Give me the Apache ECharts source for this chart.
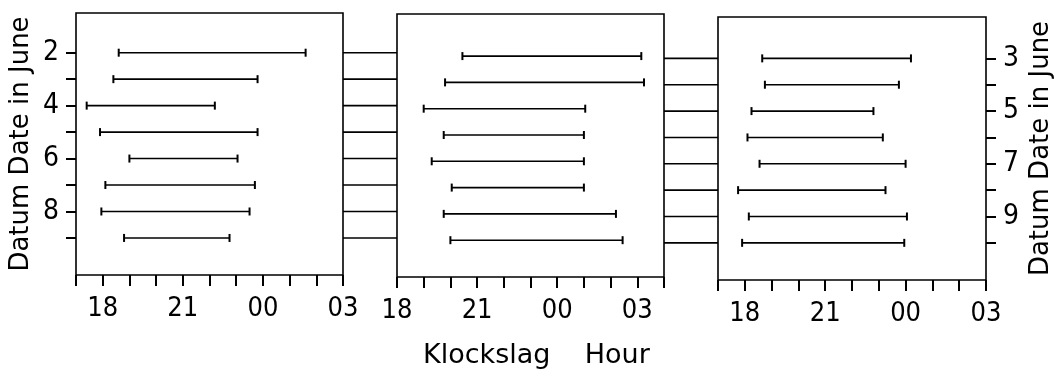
<!DOCTYPE html>
<html><head><meta charset="utf-8">
<script src="https://cdn.jsdelivr.net/npm/echarts@6/dist/echarts.min.js"></script>
<style>html,body{margin:0;padding:0;background:#fff}#c{width:1058px;height:369px}</style>
</head><body><div id="c"></div>
<script>
// Dates (June) for left-axis panels and the right-axis panel
const datesLeft = [2, 3, 4, 5, 6, 7, 8, 9];
const datesRight = [3, 4, 5, 6, 7, 8, 9, 10];
// Activity intervals, clock hours (values above 24 are after midnight)
const p1Start = [18.6, 18.4, 17.4, 17.9, 19.0, 18.1, 17.95, 18.8];
const p1End   = [25.6, 23.8, 22.2, 23.8, 23.05, 23.7, 23.5, 22.75];
const p2Start = [20.45, 19.8, 19.0, 19.75, 19.3, 20.05, 19.75, 20.0];
const p2End   = [27.15, 27.25, 25.05, 25.0, 25.0, 25.0, 26.2, 26.45];
const p3Start = [18.65, 18.75, 18.25, 18.1, 18.55, 17.75, 18.15, 17.9];
const p3End   = [24.2, 23.75, 22.8, 23.15, 24.0, 23.25, 24.05, 23.95];
// Axis ranges and tick labels
const xRange1 = [17, 27], xRange2 = [18, 28], xRange3 = [17, 27];
const labeledHours = [18, 21, 24, 27];
const leftLabels = [2, 4, 6, 8];
const rightLabels = [3, 5, 7, 9];
const yTitle = 'Datum Date in June';
const xTitle = 'Klockslag    Hour';

const FONT = '"Liberation Sans Narrow", "DejaVu Sans Condensed", sans-serif';
const TFONT = '"DejaVu Sans", sans-serif';

function zip(d, s, e) { return d.map((v, i) => [v, s[i], e[i]]); }

function renderBar(params, api) {
  const y = api.value(0), s = api.value(1), e = api.value(2);
  const a = api.coord([s, y]), b = api.coord([e, y]);
  const h = 4;
  const st = {stroke: '#000', lineWidth: 1.6};
  const cs = {stroke: '#000', lineWidth: 2};
  return {type: 'group', children: [
    {type: 'line', shape: {x1: a[0], y1: a[1], x2: b[0], y2: b[1]}, style: st},
    {type: 'line', shape: {x1: a[0], y1: a[1] - h, x2: a[0], y2: a[1] + h}, style: cs},
    {type: 'line', shape: {x1: b[0], y1: b[1] - h, x2: b[0], y2: b[1] + h}, style: cs}
  ]};
}
function renderConn(params, api) {
  const y = api.value(0);
  const a = api.coord([0, y]), b = api.coord([1, y]);
  return {type: 'line', shape: {x1: a[0], y1: a[1], x2: b[0], y2: b[1]}, style: {stroke: '#000', lineWidth: 1.6}};
}
function hourFmt(v) {
  if (labeledHours.indexOf(v) < 0) return '';
  const h = v % 24;
  return (h < 10 ? '0' : '') + h;
}
function xAx(idx, r) {
  return {type: 'value', gridIndex: idx, min: r[0], max: r[1], interval: 1,
    axisLine: {show: false}, splitLine: {show: false},
    axisTick: {show: true, inside: false, length: 11, lineStyle: {color: '#000', width: 2}},
    axisLabel: {show: true, formatter: hourFmt, color: '#000', fontSize: 27, fontFamily: FONT, margin: 20, showMinLabel: true, showMaxLabel: true}};
}
function hiddenX(idx) {
  return {type: 'value', gridIndex: idx, min: 0, max: 1, show: false};
}
function yAx(idx, r, pos, ticks, labels, name) {
  return {type: 'value', gridIndex: idx, min: r[0], max: r[1], inverse: true, position: pos,
    axisLine: {show: false}, splitLine: {show: false},
    axisTick: {show: ticks !== null, inside: false, length: 10, customValues: ticks || [], lineStyle: {color: '#000', width: 2}},
    axisLabel: {show: labels !== null, customValues: labels || [], color: '#000', fontSize: 28, fontFamily: FONT, margin: 17},
    name: name || '', nameLocation: 'middle', nameRotate: 90, nameGap: 42,
    nameTextStyle: {color: '#000', fontSize: 26, fontFamily: TFONT}};
}
function hiddenY(idx, r) {
  return {type: 'value', gridIndex: idx, min: r[0], max: r[1], inverse: true, show: false};
}

const yR1 = [0.5, 10.4], yR2 = [0.4, 10.4], yR3 = [1.43, 11.41];
const frame = {show: true, borderColor: '#000', borderWidth: 1.6, backgroundColor: 'transparent'};

const option = {
  animation: false,
  backgroundColor: '#fff',
  grid: [
    Object.assign({left: 76, top: 13, width: 267, height: 262}, frame),
    Object.assign({left: 397, top: 14, width: 267, height: 263}, frame),
    Object.assign({left: 718, top: 17, width: 268, height: 263}, frame),
    {left: 343, top: 13, width: 54, height: 262, show: false},
    {left: 664, top: 17, width: 54, height: 263, show: false}
  ],
  xAxis: [xAx(0, xRange1), xAx(1, xRange2), xAx(2, xRange3), hiddenX(3), hiddenX(4)],
  yAxis: [
    yAx(0, yR1, 'left', datesLeft, leftLabels, yTitle),
    yAx(1, yR2, 'left', null, null, ''),
    yAx(2, yR3, 'right', datesRight, rightLabels, yTitle),
    hiddenY(3, yR1),
    hiddenY(4, yR3)
  ],
  graphic: [{type: 'text', left: 423, top: 342,
    style: {text: xTitle, fill: '#000', font: '27px ' + TFONT}}],
  series: [
    {type: 'custom', xAxisIndex: 0, yAxisIndex: 0, renderItem: renderBar, data: zip(datesLeft, p1Start, p1End), encode: {x: [1, 2], y: 0}},
    {type: 'custom', xAxisIndex: 1, yAxisIndex: 1, renderItem: renderBar, data: zip(datesLeft, p2Start, p2End), encode: {x: [1, 2], y: 0}},
    {type: 'custom', xAxisIndex: 2, yAxisIndex: 2, renderItem: renderBar, data: zip(datesRight, p3Start, p3End), encode: {x: [1, 2], y: 0}},
    {type: 'custom', xAxisIndex: 3, yAxisIndex: 3, renderItem: renderConn, data: datesLeft.map(d => [d]), encode: {y: 0}},
    {type: 'custom', xAxisIndex: 4, yAxisIndex: 4, renderItem: renderConn, data: datesRight.map(d => [d]), encode: {y: 0}}
  ]
};
echarts.init(document.getElementById('c'), null, {renderer: 'canvas'}).setOption(option);
</script></body></html>
